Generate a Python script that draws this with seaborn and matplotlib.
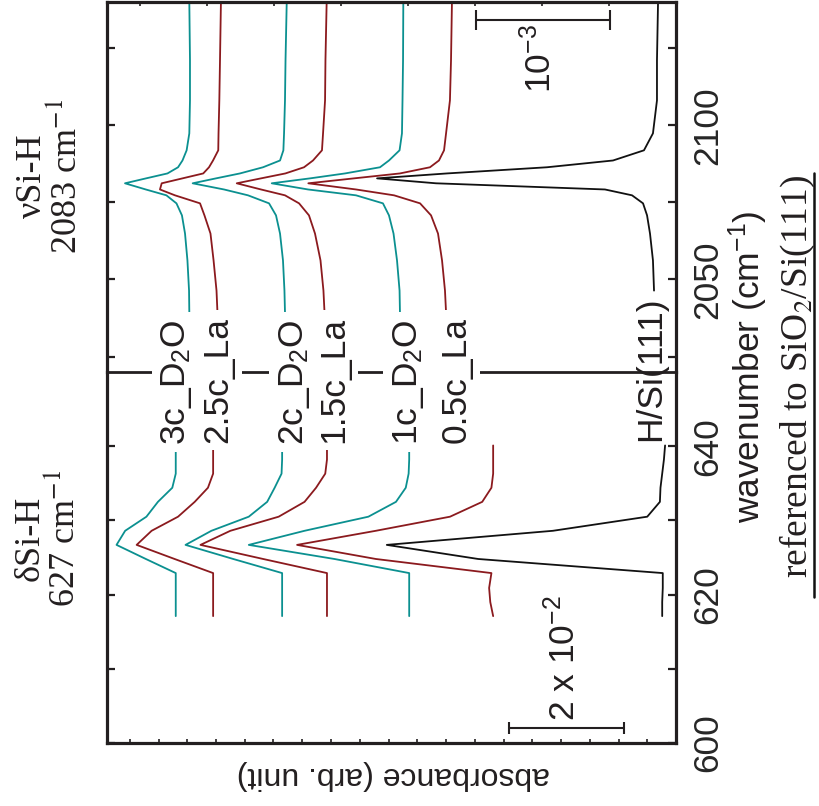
import matplotlib
matplotlib.use("Agg")
import numpy as np
import pandas as pd
import matplotlib.pyplot as plt
import seaborn as sns
from matplotlib.lines import Line2D

# ---------------- data ----------------
SAMPLES = ["3c_D2O", "2.5c_La", "2c_D2O", "1.5c_La", "1c_D2O", "0.5c_La", "H/Si(111)"]
COLORS = ["#0b9090", "#8b1a1e", "#0b9090", "#8b1a1e", "#0b9090", "#8b1a1e", "#111111"]

# upper panel: nu Si-H region (wavenumber, cm-1) ; absorbance in units of 1e-3
WN_HIGH = [2140.0, 2121.1, 2108.1, 2097.4, 2091.9, 2088.6, 2086.4, 2084.4, 2082.8,
           2081.2, 2079.2, 2077.3, 2074.7, 2070.8, 2064.9, 2056.2, 2046.4, 2039.3]
CY3_HIGH = [3.632, 3.627, 3.627, 3.632, 3.652, 3.683, 3.716, 3.795, 3.955, 4.112,
            3.957, 3.803, 3.728, 3.687, 3.664, 3.646, 3.634, 3.632]
RD25_HIGH = [3.396, 3.403, 3.408, 3.414, 3.416, 3.455, 3.485, 3.528, 3.683, 3.838,
             3.851, 3.739, 3.552, 3.519, 3.474, 3.451, 3.429, 3.422]
CY2_HIGH = [2.905, 2.914, 2.918, 2.925, 2.930, 2.955, 3.082, 3.254, 3.433, 3.607,
            3.373, 3.194, 3.037, 2.985, 2.955, 2.933, 2.922, 2.918]
RD15_HIGH = [2.607, 2.616, 2.619, 2.634, 2.642, 2.709, 2.776, 2.915, 3.097, 3.278,
             3.097, 2.918, 2.813, 2.739, 2.694, 2.653, 2.631, 2.623]
CY1_HIGH = [2.035, 2.037, 2.041, 2.045, 2.063, 2.142, 2.209, 2.470, 2.731, 3.017,
            2.746, 2.388, 2.187, 2.142, 2.108, 2.082, 2.063, 2.060]
RD05_HIGH = [1.672, 1.679, 1.687, 1.716, 1.731, 1.769, 1.836, 2.060, 2.403, 2.744,
             2.388, 2.104, 1.910, 1.828, 1.776, 1.746, 1.724, 1.716]
BLK_HIGH = [0.134, 0.142, 0.142, 0.172, 0.239, 0.470, 0.963, 1.709, 2.231, 1.791,
            0.530, 0.328, 0.246, 0.216, 0.194, 0.172, 0.164]

# lower panel: delta Si-H region (wavenumber, cm-1) ; absorbance
WN_LOW = [617.1, 619.0, 620.9, 622.9, 624.8, 626.7, 628.6, 630.5, 632.5, 634.4,
          636.3, 638.2, 640.1]
CY3_LOW = [0.0870, 0.0870, 0.0870, 0.0870, 0.0922, 0.0973, 0.0958, 0.0921, 0.0901,
           0.0876, 0.0870, 0.0870, 0.0870]
RD25_LOW = [0.0805, 0.0805, 0.0805, 0.0805, 0.0872, 0.0938, 0.0912, 0.0866, 0.0837,
            0.0814, 0.0805, 0.0805, 0.0805]
CY2_LOW = [0.0685, 0.0685, 0.0685, 0.0685, 0.0770, 0.0853, 0.0808, 0.0743, 0.0711,
           0.0698, 0.0686, 0.0685, 0.0685]
RD15_LOW = [0.0607, 0.0607, 0.0607, 0.0607, 0.0718, 0.0827, 0.0775, 0.0691, 0.0646,
            0.0626, 0.0610, 0.0607, 0.0607]
CY1_LOW = [0.0464, 0.0464, 0.0464, 0.0464, 0.0594, 0.0743, 0.0646, 0.0535, 0.0487,
           0.0470, 0.0465, 0.0464, 0.0464]
RD05_LOW = [0.0318, 0.0323, 0.0325, 0.0321, 0.0522, 0.0659, 0.0522, 0.0393, 0.0337,
            0.0321, 0.0318, 0.0318, 0.0318]
BLK_LOW = [0.0024, 0.0024, 0.0023, 0.0023, 0.0344, 0.0503, 0.0214, 0.0050, 0.0028,
           0.0027, 0.0024, 0.0021, 0.0019]

HIGH = [CY3_HIGH, RD25_HIGH, CY2_HIGH, RD15_HIGH, CY1_HIGH, RD05_HIGH, BLK_HIGH]
LOW = [CY3_LOW, RD25_LOW, CY2_LOW, RD15_LOW, CY1_LOW, RD05_LOW, BLK_LOW]

YTICKS_HIGH = [2050, 2100]
YMINOR_HIGH = [2025, 2075, 2125]
YTICKS_LOW = [600, 620, 640]
YMINOR_LOW = [610, 630]

SAMPLE_LABELS = ["3c_D$_2$O", "2.5c_La", "2c_D$_2$O", "1.5c_La", "1c_D$_2$O", "0.5c_La"]

# ---------------- build tables ----------------
def long_table(wn, series, scale):
    rows = []
    for name, vals in zip(SAMPLES, series):
        for w, v in zip(wn, vals):
            rows.append({"sample": name, "wavenumber": w, "absorbance": v * scale})
    return pd.DataFrame(rows)

df_hi = long_table(WN_HIGH, HIGH, 1e-3)
df_lo = long_table(WN_LOW, LOW, 1.0)
palette = dict(zip(SAMPLES, COLORS))

# ---------------- style ----------------
sns.set_theme(style="white")
plt.rcParams["font.family"] = ["Liberation Sans", "DejaVu Sans"]
plt.rcParams["mathtext.fontset"] = "custom"
plt.rcParams["mathtext.rm"] = "Liberation Sans"
plt.rcParams["mathtext.it"] = "Liberation Sans:italic"
plt.rcParams["mathtext.bf"] = "Liberation Sans:bold"

W, H = 819, 806
fig = plt.figure(figsize=(W / 100, H / 100), dpi=100)
fig.patch.set_facecolor("white")

def fx(px):
    return px / W

def fy(py):
    return 1 - py / H

L, R, T, B, BRK = 107, 676, 2, 743, 372
ax_hi = fig.add_axes([fx(L), fy(BRK), fx(R) - fx(L), fy(T) - fy(BRK)])
ax_lo = fig.add_axes([fx(L), fy(B), fx(R) - fx(L), fy(BRK) - fy(B)])

SPINE = "#231f20"
FS = 25.5
FS_SERIF = 26

for ax, df in ((ax_hi, df_hi), (ax_lo, df_lo)):
    sns.lineplot(data=df, x="absorbance", y="wavenumber", hue="sample",
                 palette=palette, sort=False, estimator=None, legend=False,
                 linewidth=1.3, ax=ax)
    ax.set_xlabel("")
    ax.set_ylabel("")
    for s in ax.spines.values():
        s.set_color(SPINE)
        s.set_linewidth(2.3)

# limits (absorbance increases to the left)
ax_hi.set_xlim(569 / 134 * 1e-3, 0)
ax_lo.set_xlim(569 / 5750, 0)
ax_hi.set_ylim(2020, 2140)
ax_lo.set_ylim(600, 650)

ax_hi.spines["bottom"].set_visible(False)
ax_lo.spines["top"].set_linewidth(2.0)

ax_hi.set_yticks(YTICKS_HIGH)
ax_hi.set_yticks(YMINOR_HIGH, minor=True)
ax_lo.set_yticks(YTICKS_LOW)
ax_lo.set_yticks(YMINOR_LOW, minor=True)
ax_hi.set_xticks(np.arange(0, 4.2e-3, 0.5e-3))
ax_lo.set_xticks(np.arange(0, 0.0985, 0.005))

for ax in (ax_hi, ax_lo):
    ax.tick_params(axis="y", which="both", direction="in", left=True, right=True,
                   labelleft=False, labelright=True, length=6, width=1.6,
                   color=SPINE, labelsize=FS, pad=11)
    for t in ax.yaxis.get_major_ticks():
        t.label2.set_rotation(90)
        t.label2.set_va("center")
        t.label2.set_ha("left")
ax_hi.tick_params(axis="x", which="both", direction="in", top=True, bottom=False,
                  labelbottom=False, labeltop=False, length=3, width=1.2, color=SPINE)
ax_lo.tick_params(axis="x", which="both", direction="in", top=False, bottom=True,
                  labelbottom=False, labeltop=False, length=3, width=1.2, color=SPINE)

# scale bars
SB_HI = (0.493e-3, 1.493e-3, 2134.1)
SB_LO = (0.0090, 0.0290, 602.0)
ax_hi.plot([SB_HI[0], SB_HI[1]], [SB_HI[2], SB_HI[2]], color=SPINE, lw=1.5,
           marker="|", markersize=14, mew=1.5)
ax_lo.plot([SB_LO[0], SB_LO[1]], [SB_LO[2], SB_LO[2]], color=SPINE, lw=1.5,
           marker="|", markersize=9, mew=1.5)

# ---------------- texts ----------------
lab_x = [177, 218, 294, 334, 408, 456]
lab_y = [382, 380, 382, 380, 382, 380]
for lab, x, y in zip(SAMPLE_LABELS, lab_x, lab_y):
    fig.text(fx(x), fy(y), lab, rotation=90, ha="center", va="center", fontsize=FS,
             color="#231f20", zorder=10,
             bbox=dict(boxstyle="square,pad=0.2", fc="white", ec="none"))
fig.text(fx(651), fy(369), "H/Si(111)", rotation=90, ha="center", va="center",
         fontsize=FS, color="#231f20", zorder=10)

fig.text(fx(540), fy(59), "10$^{-3}$", rotation=90, ha="center", va="center",
         fontsize=FS, color="#231f20")
fig.text(fx(564), fy(658), "2 x 10$^{-2}$", rotation=90, ha="center", va="center",
         fontsize=FS, color="#231f20")

fig.text(fx(50), fy(176), "\u03bdSi-H\n2083 cm$^{-1}$", rotation=90, ha="center",
         va="center", multialignment="center", fontsize=FS_SERIF, linespacing=1.0,
         family=["Liberation Serif", "DejaVu Serif"], math_fontfamily="stix",
         color="#231f20")
fig.text(fx(48), fy(538), "\u03b4Si-H\n627 cm$^{-1}$", rotation=90, ha="center",
         va="center", multialignment="center", fontsize=FS_SERIF, linespacing=1.0,
         family=["Liberation Serif", "DejaVu Serif"], math_fontfamily="stix",
         color="#231f20")

fig.text(fx(748), fy(367), "wavenumber (cm$^{-1}$)", rotation=90, ha="center",
         va="center", fontsize=FS, color="#231f20")
fig.text(fx(797), fy(376), "referenced to SiO$_2$/Si(111)", rotation=90,
         ha="center", va="center", fontsize=27,
         family=["Liberation Serif", "DejaVu Serif"], math_fontfamily="stix",
         color="#231f20")
fig.add_artist(Line2D([fx(814), fx(814)], [fy(173), fy(597)], color="#111111", lw=1.8))

fig.text(fx(393), fy(775), "absorbance (arb. unit)", rotation=180, ha="center",
         va="center", fontsize=23, color="#231f20")

fig.savefig("out.png", dpi=100, facecolor="white")
